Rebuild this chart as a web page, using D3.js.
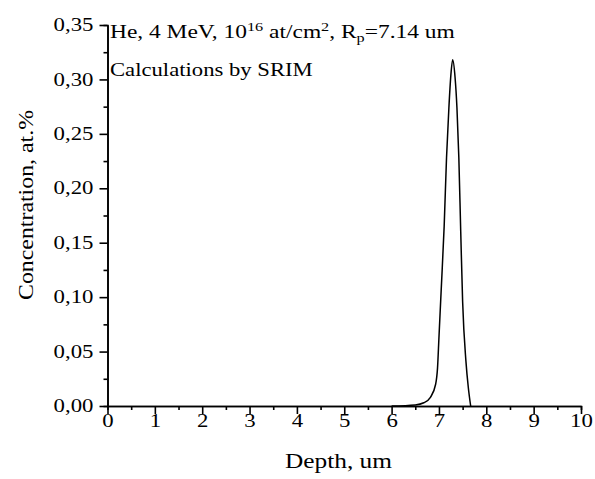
<!DOCTYPE html>
<html><head><meta charset="utf-8">
<script src="https://cdn.jsdelivr.net/npm/d3@7"></script>
<style>body{margin:0;background:#fff}svg{display:block}text{font-family:"Liberation Serif","Times New Roman",serif;fill:#000}</style>
</head><body>
<svg id="c" width="595" height="479"></svg>
<script>
const depth = [6.0, 6.5, 6.68, 6.82, 6.93, 6.97, 7.0, 7.05, 7.11, 7.16, 7.21, 7.25, 7.29, 7.34, 7.38, 7.42, 7.46, 7.5, 7.57, 7.62, 7.67];
const conc  = [0, 0.001, 0.003, 0.008, 0.02, 0.035, 0.063, 0.109, 0.165, 0.228, 0.274, 0.303, 0.318, 0.302, 0.274, 0.228, 0.16, 0.096, 0.041, 0.017, 0];
const xTicks = [0,1,2,3,4,5,6,7,8,9,10];
const xMinor = [0.5,1.5,2.5,3.5,4.5,5.5,6.5,7.5,8.5,9.5];
const yTicks = [0,0.05,0.10,0.15,0.20,0.25,0.30,0.35];
const yMinor = [0.025,0.075,0.125,0.175,0.225,0.275,0.325];

const svg = d3.select("#c");
const x = d3.scaleLinear().domain([0,10]).range([107.5,581]);
const y = d3.scaleLinear().domain([0,0.35]).range([406,25]);
const fmt = v => d3.format(".2f")(v).replace(".", ",");
const SX = 1.2;

function style(g){
  g.select(".domain").attr("stroke","#000").attr("stroke-width",1.6);
  g.selectAll(".tick line").attr("stroke","#000").attr("stroke-width",1.6);
  g.selectAll("text").style("font-size","19px").style("font-family","Liberation Serif");
}
// minor ticks
svg.append("g").attr("transform","translate(0,406)")
  .call(d3.axisBottom(x).tickValues(xMinor).tickSize(4).tickFormat(""))
  .call(style);
svg.append("g").attr("transform","translate(107.5,0)")
  .call(d3.axisLeft(y).tickValues(yMinor).tickSize(4).tickFormat(""))
  .call(style);
// major ticks
const gx = svg.append("g").attr("transform","translate(0,406)")
  .call(d3.axisBottom(x).tickValues(xTicks).tickSize(8).tickSizeOuter(0).tickPadding(5).tickFormat(d3.format("d")))
  .call(style);
gx.selectAll(".tick text").attr("dy",null).attr("y",21).attr("transform",`scale(${SX},1)`);
const gy = svg.append("g").attr("transform","translate(107.5,0)")
  .call(d3.axisLeft(y).tickValues(yTicks).tickSize(8).tickSizeOuter(0).tickPadding(6).tickFormat(fmt))
  .call(style);
gy.selectAll(".tick text").attr("x",0).attr("dy","0.3em").attr("transform",`translate(-14,0) scale(${SX},1)`);

const line = d3.line().x((d,i)=>x(depth[i])).y(d=>y(d)).curve(d3.curveMonotoneX);
svg.append("path").datum(conc).attr("d", line).attr("fill","none").attr("stroke","#000").attr("stroke-width",1.5);

function fit(sel, target, ax){
  const w = sel.node().getComputedTextLength();
  const s = target / w;
  sel.attr("transform", `translate(${ax},0) scale(${s},1) translate(${-ax},0)`);
}

const xl = svg.append("text").attr("x",285).attr("y",468).style("font-size","20px").text("Depth, um");
fit(xl, 107, 285);
svg.append("text").attr("transform","translate(33,205) rotate(-90)").attr("text-anchor","middle")
  .attr("textLength",190).attr("lengthAdjust","spacingAndGlyphs")
  .style("font-size","20px").text("Concentration, at.%");

const t1 = svg.append("text").attr("x",110).attr("y",38).style("font-size","18px");
t1.append("tspan").text("He, 4 MeV, 10");
t1.append("tspan").attr("dy",-7).style("font-size","12.5px").text("16");
t1.append("tspan").attr("dy",7).text(" at/cm");
t1.append("tspan").attr("dy",-7).style("font-size","12.5px").text("2");
t1.append("tspan").attr("dy",7).text(", R");
t1.append("tspan").attr("dy",4).style("font-size","12.5px").text("p");
t1.append("tspan").attr("dy",-4).text("=7.14 um");
fit(t1, 345, 110);
const t2 = svg.append("text").attr("x",110).attr("y",76).style("font-size","19px").text("Calculations by SRIM");
fit(t2, 203, 110);
</script>
</body></html>
